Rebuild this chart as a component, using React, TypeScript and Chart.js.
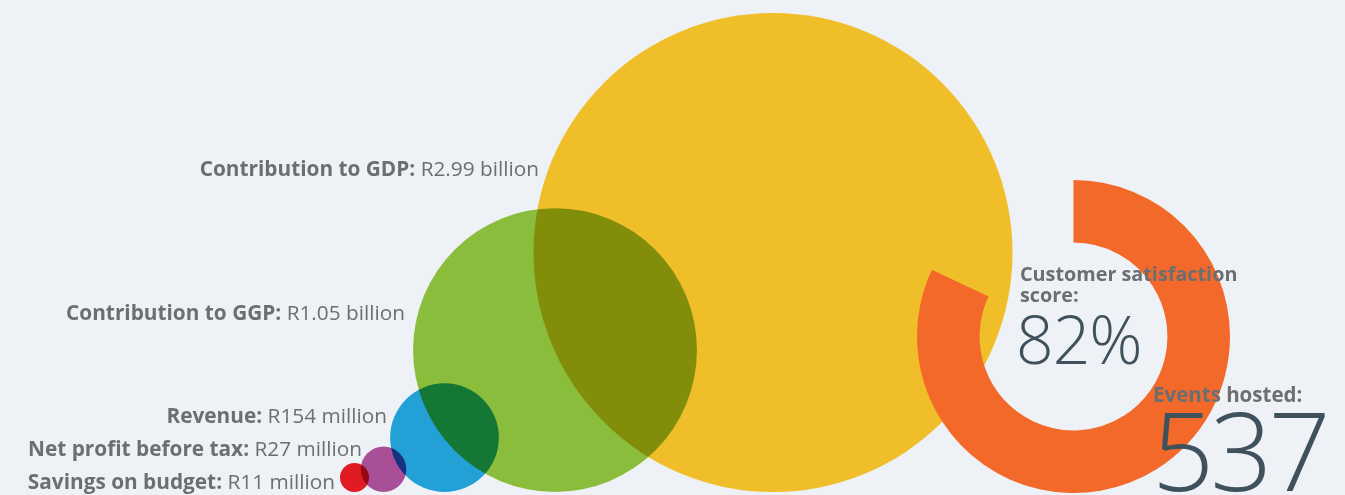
import React, { useEffect, useRef } from "react";
import { Chart, registerables } from "chart.js";

Chart.register(...registerables);

// ---------- data ----------
const categories = [
  "Contribution to GDP",
  "Contribution to GGP",
  "Revenue",
  "Net profit before tax",
  "Savings on budget",
];
const valueLabels = ["R2.99 billion", "R1.05 billion", "R154 million", "R27 million", "R11 million"];
const valuesRandMillion = [2990, 1050, 154, 27, 11];
const bubbleX = [773, 555, 444.5, 383.5, 354.5];
const satisfactionScore = [82, 18];
const satisfactionTitle = "Customer satisfaction";
const satisfactionTitle2 = "score:";
const satisfactionText = "82%";
const eventsTitle = "Events hosted:";
const eventsHosted = "537";

// ---------- layout / style ----------
const W = 1345;
const H = 495;
const BASE = 3; // y units above canvas bottom where bubbles sit
const R_UNIT = 239.5 / Math.sqrt(2990);
const bubbleColors = ["#EFBE28", "#8BBD3D", "#23A0D6", "#A84F98", "#E11B24"];
const labelBaseline = [176, 320, 423, 456, 489];
const labelRight = [539, 405, 387, 362, 335];
const BG = "#EEF1F5";
const GRAY = "#6D6E72";
const DARK = "#3F515C";
const FONT = "'Open Sans', 'Noto Sans', sans-serif";

const multiplyPlugin = {
  id: "multiply",
  beforeDatasetsDraw(chart: any) {
    chart.ctx.save();
    chart.ctx.globalCompositeOperation = "multiply";
  },
  afterDatasetsDraw(chart: any) {
    chart.ctx.restore();
  },
};

const labelPlugin = {
  id: "bubbleLabels",
  afterDraw(chart: any) {
    const ctx = chart.ctx;
    ctx.save();
    ctx.textBaseline = "alphabetic";
    ctx.fillStyle = GRAY;
    categories.forEach((cat, i) => {
      const bold = "bold 20.8px " + FONT;
      const reg = "20.8px " + FONT;
      ctx.font = reg;
      const v = " " + valueLabels[i];
      const wv = ctx.measureText(v).width;
      ctx.font = bold;
      const b = cat + ":";
      const wb = ctx.measureText(b).width;
      const right = chart.scales.x.getPixelForValue(labelRight[i]);
      const y = labelBaseline[i];
      ctx.textAlign = "left";
      ctx.fillText(b, right - wv - wb, y);
      ctx.font = reg;
      ctx.fillText(v, right - wv, y);
    });
    ctx.restore();
  },
};

const textPlugin = {
  id: "kpiText",
  afterDraw(chart: any) {
    const ctx = chart.ctx;
    ctx.save();
    ctx.textAlign = "left";
    ctx.textBaseline = "alphabetic";
    ctx.fillStyle = GRAY;
    ctx.font = "bold 19.8px " + FONT;
    ctx.fillText(satisfactionTitle, 1020, 281);
    ctx.fillText(satisfactionTitle2, 1020, 302);
    ctx.font = "bold 20.5px " + FONT;
    ctx.fillText(eventsTitle, 1153, 402);
    ctx.fillStyle = DARK;
    ctx.font = "300 66px " + FONT;
    (ctx as any).letterSpacing = "-1px";
    ctx.fillText(satisfactionText, 1016, 364);
    ctx.font = "300 109px " + FONT;
    (ctx as any).letterSpacing = "-4px";
    ctx.fillText(eventsHosted, 1152, 491);
    (ctx as any).letterSpacing = "0px";
    ctx.restore();
  },
};

export default function App() {
  const bubbleRef = useRef<HTMLCanvasElement>(null);
  const donutRef = useRef<HTMLCanvasElement>(null);

  useEffect(() => {
    document.body.style.margin = "0";
    document.body.style.background = BG;
    const bubble = new Chart(bubbleRef.current!, {
      type: "bubble",
      data: {
        datasets: [
          {
            data: valuesRandMillion.map((v, i) => ({
              x: bubbleX[i],
              y: BASE + R_UNIT * Math.sqrt(v),
              r: R_UNIT * Math.sqrt(v),
            })),
            backgroundColor: bubbleColors,
            borderWidth: 0,
            clip: false,
          } as any,
        ],
      },
      options: {
        responsive: false,
        animation: false,
        events: [],
        layout: { padding: 0, autoPadding: false },
        plugins: { legend: { display: false }, tooltip: { enabled: false } },
        scales: {
          x: { type: "linear", min: 0, max: W, display: false },
          y: { type: "linear", min: 0, max: H, display: false },
        },
      },
      plugins: [multiplyPlugin, labelPlugin],
    });

    const donut = new Chart(donutRef.current!, {
      type: "doughnut",
      data: {
        labels: ["Satisfied", "Other"],
        datasets: [
          {
            data: satisfactionScore,
            backgroundColor: ["#F2692A", "rgba(0,0,0,0)"],
            borderWidth: 0,
          },
        ],
      },
      options: {
        responsive: false,
        animation: false,
        events: [],
        cutout: "60%",
        rotation: 0,
        layout: { padding: { left: 917, top: 180, right: W - 1230, bottom: H - 493 } },
        plugins: { legend: { display: false }, tooltip: { enabled: false } },
      },
      plugins: [textPlugin],
    });

    return () => {
      bubble.destroy();
      donut.destroy();
    };
  }, []);

  return (
    <div style={{ position: "relative", width: W, height: H, background: BG, overflow: "hidden" }}>
      <canvas ref={bubbleRef} width={W} height={H} style={{ position: "absolute", left: 0, top: 0 }} />
      <canvas ref={donutRef} width={W} height={H} style={{ position: "absolute", left: 0, top: 0 }} />
    </div>
  );
}
